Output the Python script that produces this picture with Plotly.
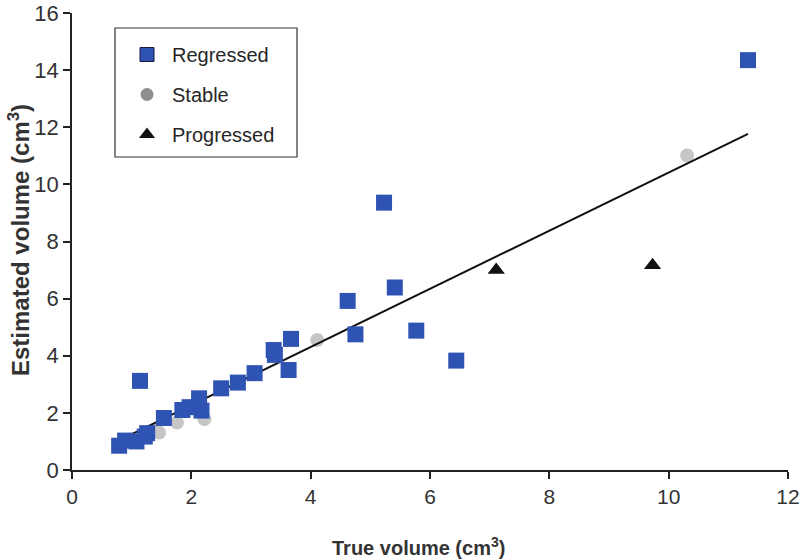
import plotly.graph_objects as go

# Regressed (blue squares)
reg_x = [0.79, 0.89, 1.08, 1.22, 1.26, 1.14, 1.54, 1.85, 1.97, 2.13, 2.17, 2.50, 2.78,
         3.06, 3.38, 3.40, 3.63, 3.67, 4.62, 4.75, 5.23, 5.41, 5.77, 6.44, 11.33]
reg_y = [0.85, 1.03, 1.00, 1.17, 1.29, 3.12, 1.82, 2.10, 2.20, 2.51, 2.08, 2.86, 3.06,
         3.39, 4.20, 4.03, 3.50, 4.59, 5.92, 4.75, 9.36, 6.39, 4.88, 3.83, 14.35]

# Stable (gray circles)
sta_x = [1.40, 1.46, 1.76, 2.22, 4.11, 10.31]
sta_y = [1.40, 1.31, 1.66, 1.78, 4.55, 11.01]

# Progressed (black triangles)
pro_x = [7.11, 9.73]
pro_y = [7.00, 7.17]

# Fitted line end points
fit_x = [0.78, 11.33]
fit_y = [1.03, 11.77]

x_ticks = [0, 2, 4, 6, 8, 10, 12]
y_ticks = [0, 2, 4, 6, 8, 10, 12, 14, 16]

FONT = "Arial, Liberation Sans, sans-serif"
BLUE = "#2f53b3"
GRAY_PT = "#c6c6c6"
GRAY_LEG = "#8f8f8f"
TXT = "#262626"

L, R, T, B = 72, 12, 13, 89
PW, PH = 800 - L - R, 559 - T - B


def px(xp):
    return (xp - L) / PW


def py(yp):
    return (559 - B - yp) / PH


fig = go.Figure()

fig.add_trace(go.Scatter(x=sta_x, y=sta_y, mode="markers", showlegend=False,
                         marker=dict(symbol="circle", size=14, color=GRAY_PT)))
fig.add_trace(go.Scatter(x=fit_x, y=fit_y, mode="lines", showlegend=False,
                         line=dict(color="#111111", width=2)))
fig.add_trace(go.Scatter(x=reg_x, y=reg_y, mode="markers", showlegend=False,
                         marker=dict(symbol="square", size=16, color=BLUE)))
fig.add_trace(go.Scatter(x=pro_x, y=pro_y, mode="markers", showlegend=False,
                         marker=dict(symbol="triangle-up", size=15, color="#111111")))

# legend entries
fig.add_trace(go.Scatter(x=[None], y=[None], mode="markers", name="Regressed", legendgroup="a",
                         marker=dict(symbol="square", size=14, color=BLUE,
                                     line=dict(color="#1a1a40", width=1))))
fig.add_trace(go.Scatter(x=[None], y=[None], mode="markers", name="Stable", legendgroup="b",
                         marker=dict(symbol="circle", size=13, color=GRAY_LEG)))
fig.add_trace(go.Scatter(x=[None], y=[None], mode="markers", name="Progressed", legendgroup="c",
                         marker=dict(symbol="triangle-up", size=14, color="#111111")))

fig.update_layout(
    width=800, height=559,
    margin=dict(l=L, r=R, t=T, b=B),
    plot_bgcolor="white", paper_bgcolor="white",
    font=dict(family=FONT, size=20, color=TXT),
    showlegend=True,
    legend=dict(x=px(122), y=py(35), xanchor="left", yanchor="top",
                bgcolor="rgba(0,0,0,0)", borderwidth=0,
                traceorder="grouped", tracegroupgap=11,
                font=dict(family=FONT, size=20, color=TXT),
                itemwidth=40),
    shapes=[dict(type="rect", xref="paper", yref="paper",
                 x0=px(115), x1=px(297), y0=py(157), y1=py(28),
                 line=dict(color="#333333", width=1.2), fillcolor="rgba(0,0,0,0)")],
    annotations=[
        dict(text="<b>True volume (cm<sup>3</sup>)</b>", xref="paper", yref="paper",
             x=px(418), y=py(546), showarrow=False,
             xanchor="center", yanchor="middle",
             font=dict(size=20, family=FONT, color="#333333")),
        dict(text="<b>Estimated volume (cm<sup>3</sup>)</b>", xref="paper", yref="paper",
             x=px(19), y=py(240), showarrow=False, textangle=-90,
             xanchor="center", yanchor="middle",
             font=dict(size=24, family=FONT, color="#333333")),
    ],
)

fig.update_xaxes(range=[0, 12], tickvals=x_ticks, ticks="outside", ticklen=7, tickwidth=1.5,
                 tickcolor="#222222", showline=True, linecolor="#222222", linewidth=1.5,
                 showgrid=False, zeroline=False, automargin=False, ticklabeloverflow="allow",
                 tickfont=dict(size=21, family=FONT, color="#333333"))
fig.update_yaxes(range=[0, 16], tickvals=y_ticks, ticks="outside", ticklen=7, tickwidth=1.5,
                 tickcolor="#222222", showline=True, linecolor="#222222", linewidth=1.5,
                 showgrid=False, zeroline=False, automargin=False, ticklabeloverflow="allow",
                 tickfont=dict(size=22, family=FONT, color="#333333"))

fig.write_html("out.html", config={"displayModeBar": False},
               post_script="document.body.style.margin='0';")
